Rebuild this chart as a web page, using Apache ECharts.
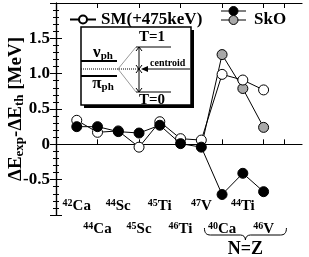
<!DOCTYPE html>
<html><head><meta charset="utf-8">
<script src="https://cdn.jsdelivr.net/npm/echarts@6/dist/echarts.min.js"></script>
<style>html,body{margin:0;padding:0;background:#fff}#c{width:309px;height:257px}</style>
</head><body><div id="c"></div>
<script>
const massNumbers = [42, 44, 44, 45, 45, 46, 47, 40, 44, 46];
const elements = ['Ca', 'Ca', 'Sc', 'Sc', 'Ti', 'Ti', 'V', 'Ca', 'Ti', 'V'];
const smValues = [0.34, 0.17, 0.19, -0.04, 0.32, 0.08, 0.06, 0.99, 0.91, 0.77];
const skoValues = [0.25, 0.25, 0.18, 0.16, 0.27, 0.01, -0.04, -0.71, -0.41, -0.67];
// SkO T=1 (gray) values for N=Z nuclei 40Ca, 44Ti, 46V
const skoT1Values = [1.27, 0.79, 0.24];
const yTickLabels = [-0.5, 0, 0.5, 1.0, 1.5];

const FONT = "'Liberation Serif','Times New Roman',serif";
const pos = massNumbers.map((m, i) => i + 1);
const smData = pos.map((x, i) => [x, smValues[i]]);
const skoData = pos.map((x, i) => [x, skoValues[i]]);
const grayData = [{value: [pos[6], skoValues[6]], symbol: 'none'}]
  .concat(skoT1Values.map((v, k) => [pos[7 + k], v]));

function isoLabel(v) {
  const i = Math.round(v) - 1;
  if (i < 0 || i >= elements.length) return '';
  return '{s|' + massNumbers[i] + '}{e|' + elements[i] + '}';
}
const isoRich = {
  s: {fontSize: 10, fontWeight: 'bold', fontFamily: FONT, color: '#000', padding: [0, 0, 6, 0]},
  e: {fontSize: 15, fontWeight: 'bold', fontFamily: FONT, color: '#000'}
};
const tickVals = [2, 4, 6, 8, 10, 11];

const chart = echarts.init(document.getElementById('c'), null, {renderer: 'canvas'});
const option = {
  animation: false,
  grid: {left: 56, right: 7, top: 3, bottom: 42, outerBoundsMode: 'none', containLabel: false},
  legend: [
    {data: ['SM(+475keV)'], left: 64, top: 6, itemWidth: 26, itemHeight: 10, itemGap: 0,
     textStyle: {fontFamily: FONT, fontWeight: 'bold', fontSize: 17, color: '#000'}},
    {data: [{name: 'SkO', itemStyle: {opacity: 0}, lineStyle: {opacity: 0}}], left: 217, top: 6, itemWidth: 26, itemHeight: 10,
     textStyle: {fontFamily: FONT, fontWeight: 'bold', fontSize: 17, color: '#000'}}
  ],
  xAxis: [
    {type: 'value', min: 0, max: 11.85, position: 'bottom',
     axisLine: {show: true, lineStyle: {color: '#000', width: 1.2}},
     axisTick: {show: true, inside: true, length: 5, customValues: tickVals, lineStyle: {color: '#000'}},
     axisLabel: {customValues: [2, 4, 6, 8, 10], formatter: isoLabel, rich: isoRich, margin: 6, color: '#000'},
     splitLine: {show: false}},
    {type: 'value', min: 0, max: 11.85, position: 'bottom',
     axisLine: {show: false}, axisTick: {show: false},
     axisLabel: {inside: true, customValues: [1, 3, 5, 7, 9], formatter: isoLabel, rich: isoRich, margin: 1, color: '#000'},
     splitLine: {show: false}},
    {type: 'value', min: 0, max: 11.85, position: 'top',
     axisLine: {show: true, lineStyle: {color: '#000', width: 1.2}},
     axisTick: {show: true, inside: true, length: 5, customValues: tickVals, lineStyle: {color: '#000'}},
     axisLabel: {show: false}, splitLine: {show: false}}
  ],
  yAxis: [
    {type: 'value', min: -1, max: 2, interval: 0.5, position: 'left',
     name: 'ΔE{b|exp}-ΔE{b|th} [MeV]', nameLocation: 'middle', nameGap: 30, nameRotate: 90, nameMoveOverlap: false,
     nameTextStyle: {fontFamily: FONT, fontWeight: 'bold', fontSize: 19, color: '#000',
       rich: {b: {fontFamily: FONT, fontWeight: 'bold', fontSize: 13, color: '#000', padding: [7, 0, 0, 0]}}},
     axisLine: {show: true, lineStyle: {color: '#000', width: 1.2}},
     axisTick: {show: true, inside: true, length: 6, lineStyle: {color: '#000'}},
     minorTick: {show: true, splitNumber: 5, length: 3, lineStyle: {color: '#000'}},
     axisLabel: {customValues: yTickLabels, margin: 6, fontFamily: FONT, fontWeight: 'bold', fontSize: 17, color: '#000',
       formatter: v => (v === 0 ? '0' : v.toFixed(1))},
     splitLine: {show: false}},
    {type: 'value', min: -1, max: 2, interval: 0.5, position: 'right',
     axisLine: {show: true, lineStyle: {color: '#000', width: 1.2}},
     axisTick: {show: true, inside: true, length: 6, lineStyle: {color: '#000'}},
     minorTick: {show: true, splitNumber: 5, length: 3, lineStyle: {color: '#000'}},
     axisLabel: {show: false}, splitLine: {show: false}}
  ],
  series: [
    {name: 'SkO T=1', type: 'line', data: grayData, symbol: 'circle', symbolSize: 10, z: 2,
     lineStyle: {color: '#000', width: 1}, itemStyle: {color: '#a8a8a8', borderColor: '#000', borderWidth: 1}},
    {name: 'SM(+475keV)', type: 'line', data: smData, symbol: 'circle', symbolSize: 10, z: 3,
     lineStyle: {color: '#000', width: 1}, itemStyle: {color: '#fff', borderColor: '#000', borderWidth: 1}},
    {name: 'SkO', type: 'line', data: skoData, symbol: 'circle', symbolSize: 10, z: 4,
     lineStyle: {color: '#000', width: 1}, itemStyle: {color: '#000', borderColor: '#000', borderWidth: 1}}
  ]
};
chart.setOption(option);

// annotation: inset, SkO legend markers, N=Z brace
const bx1 = chart.convertToPixel({xAxisIndex: 0}, 7.15);
const bx2 = chart.convertToPixel({xAxisIndex: 0}, 11.1);
const bxm = (bx1 + bx2) / 2;
const by = 235;
const ink = {stroke: '#000', lineWidth: 1, fill: null};
const chevron = (x, y, d) => ({type: 'polyline', shape: {points: [[x - 3, y + 4 * d], [x, y], [x + 3, y + 4 * d]]}, style: ink, z: 20});
const seg = (x1, y1, x2, y2, extra) => ({type: 'line', shape: {x1, y1, x2, y2}, style: Object.assign({stroke: '#000', lineWidth: 1}, extra || {}), z: 20});
const bez = (x1, y1, cpx1, cpy1, cpx2, cpy2, x2, y2) => ({type: 'bezierCurve', shape: {x1, y1, cpx1, cpy1, cpx2, cpy2, x2, y2}, style: ink, z: 20});
chart.setOption({graphic: [
  {type: 'rect', shape: {x: 84, y: 30, width: 110, height: 78}, style: {fill: '#000'}, z: 10},
  {type: 'rect', shape: {x: 81, y: 27, width: 110, height: 78}, style: {fill: '#fff', stroke: '#000', lineWidth: 1.5}, z: 11},
  seg(81, 61, 117, 61, {lineWidth: 2}),
  seg(81, 76, 117, 76, {lineWidth: 2}),
  seg(81, 69, 139, 69, {lineDash: [1, 1]}),
  seg(118, 69, 136, 47, {stroke: '#999'}),
  seg(118, 69, 136, 92, {stroke: '#999'}),
  seg(136, 47, 171, 47),
  seg(136, 92, 171, 92),
  seg(139, 47, 139, 92),
  chevron(139, 47, 1), chevron(139, 69, -1), chevron(139, 69, 1), chevron(139, 92, -1),
  seg(146, 69, 190, 69),
  {type: 'polygon', shape: {points: [[141, 69], [148, 66], [148, 72]]}, style: {fill: '#000'}, z: 20},
  {type: 'text', x: 152, y: 37, style: {text: 'T=1', font: 'bold 15px ' + FONT, fill: '#000', align: 'center', verticalAlign: 'middle'}, z: 20},
  {type: 'text', x: 152, y: 100, style: {text: 'T=0', font: 'bold 15px ' + FONT, fill: '#000', align: 'center', verticalAlign: 'middle'}, z: 20},
  {type: 'text', x: 150, y: 63, style: {text: 'centroid', font: 'bold 10px ' + FONT, fill: '#000', align: 'left', verticalAlign: 'middle'}, z: 20},
  {type: 'text', x: 103, y: 53, style: {text: '{a|ν}{b|ph}', align: 'center', verticalAlign: 'middle',
    rich: {a: {font: 'bold 17px ' + FONT, fill: '#000'}, b: {font: 'bold 11px ' + FONT, fill: '#000', padding: [7, 0, 0, 0]}}}, z: 20},
  {type: 'text', x: 103, y: 84, style: {text: '{a|π}{b|ph}', align: 'center', verticalAlign: 'middle',
    rich: {a: {font: 'bold 17px ' + FONT, fill: '#000'}, b: {font: 'bold 11px ' + FONT, fill: '#000', padding: [7, 0, 0, 0]}}}, z: 20},
  // SkO legend markers (black over gray)
  seg(221, 11, 246, 11),
  {type: 'circle', shape: {cx: 233.5, cy: 11, r: 4.5}, style: {fill: '#000', stroke: '#000', lineWidth: 1}, z: 21},
  seg(221, 20, 246, 20),
  {type: 'circle', shape: {cx: 233.5, cy: 20, r: 4.5}, style: {fill: '#a8a8a8', stroke: '#000', lineWidth: 1}, z: 21},
  // brace under N=Z nuclei
  bez(bx1, by - 7, bx1, by - 2, bx1 + 2, by, bx1 + 6, by),
  seg(bx1 + 6, by, bxm - 5, by),
  bez(bxm - 5, by, bxm - 2, by, bxm, by + 2, bxm, by + 5),
  bez(bxm, by + 5, bxm, by + 2, bxm + 2, by, bxm + 5, by),
  seg(bxm + 5, by, bx2 - 6, by),
  bez(bx2 - 6, by, bx2 - 2, by, bx2, by - 2, bx2, by - 7),
  {type: 'text', x: bxm, y: 249, style: {text: 'N=Z', font: 'bold 18px ' + FONT, fill: '#000', align: 'center', verticalAlign: 'middle'}, z: 20}
]});
</script></body></html>
